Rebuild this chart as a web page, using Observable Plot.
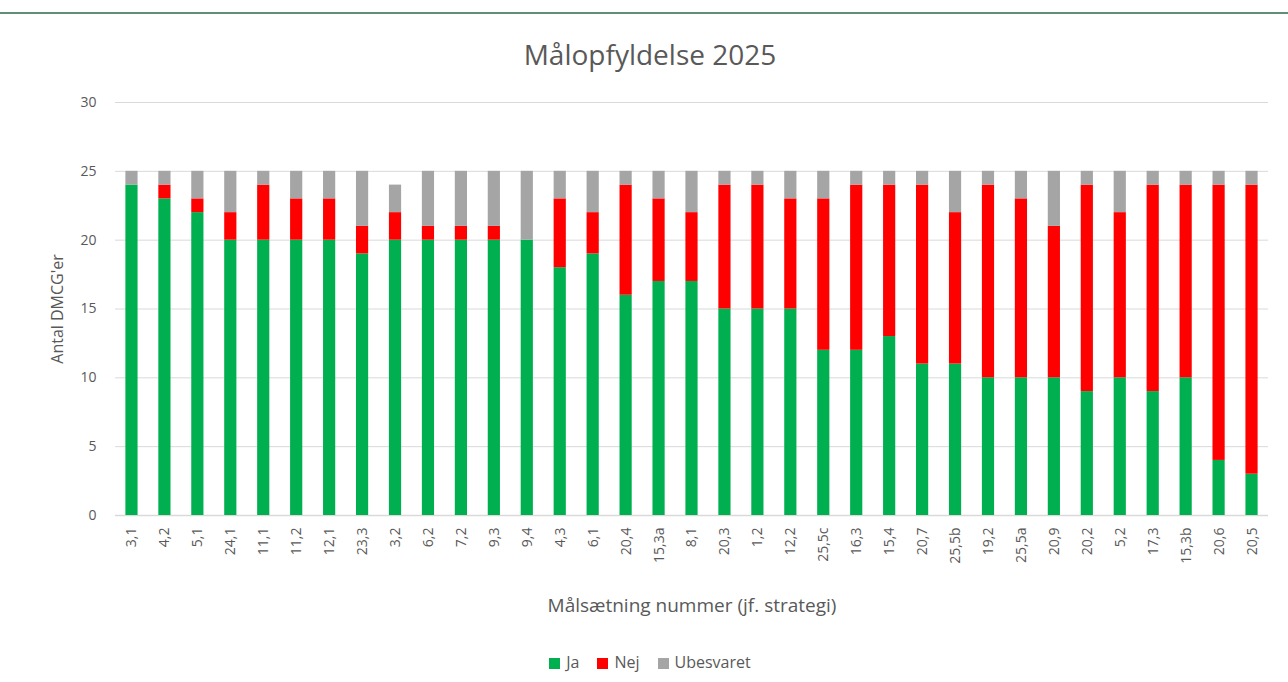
<!DOCTYPE html>
<html>
<head>
<meta charset="utf-8">
<script src="https://cdn.jsdelivr.net/npm/d3@7"></script>
<script src="https://cdn.jsdelivr.net/npm/@observablehq/plot@0.6"></script>
<style>
  html, body { margin: 0; padding: 0; background: #fff; }
  body { width: 1288px; height: 682px; position: relative; overflow: hidden; font-family: "Open Sans", "Liberation Sans", sans-serif; color: #595959; }
  #topline { position: absolute; left: 0; top: 12px; width: 1288px; height: 2px; background: #5f8f74; }
  #title { position: absolute; left: 0; top: 34px; width: 1300px; text-align: center; font-size: 28px; line-height: 40px; color: #595959; }
  #chart { position: absolute; left: 0; top: 80px; }
  #legend { position: absolute; left: 0; top: 651px; width: 1300px; text-align: center; font-size: 16px; line-height: 22px; color: #595959; }
  .item { display: inline-block; margin: 0 9px; }
  .sw { display: inline-block; width: 11px; height: 11px; margin-right: 6px; vertical-align: -1px; }
</style>
</head>
<body>
<div id="topline"></div>
<div id="title">Målopfyldelse 2025</div>
<div id="chart"></div>
<div id="legend"></div>
<script>
const categories = ["3,1","4,2","5,1","24,1","11,1","11,2","12,1","23,3","3,2","6,2","7,2","9,3","9,4","4,3","6,1","20,4","15,3a","8,1","20,3","1,2","12,2","25,5c","16,3","15,4","20,7","25,5b","19,2","25,5a","20,9","20,2","5,2","17,3","15,3b","20,6","20,5"];
const ja        = [24,23,22,20,20,20,20,19,20,20,20,20,20,18,19,16,17,17,15,15,15,12,12,13,11,11,10,10,10, 9,10, 9,10, 4, 3];
const nej       = [ 0, 1, 1, 2, 4, 3, 3, 2, 2, 1, 1, 1, 0, 5, 3, 8, 6, 5, 9, 9, 8,11,12,11,13,11,14,13,11,15,12,15,14,20,21];
const ubesvaret = [ 1, 1, 2, 3, 1, 2, 2, 4, 2, 4, 4, 4, 5, 2, 3, 1, 2, 3, 1, 1, 2, 2, 1, 1, 1, 3, 1, 2, 4, 1, 3, 1, 1, 1, 1];
const seriesNames = ["Ja", "Nej", "Ubesvaret"];
const seriesColors = ["#00b050", "#ff0000", "#a5a5a5"];
const yTicks = [0, 5, 10, 15, 20, 25, 30];

const values = [ja, nej, ubesvaret];
const data = categories.flatMap((c, i) => seriesNames.map((s, k) => ({category: c, series: s, value: values[k][i]})));

const chart = Plot.plot({
  width: 1288,
  height: 545,
  marginLeft: 115,
  marginRight: 20,
  marginTop: 22,
  marginBottom: 110,
  style: {fontFamily: "'Open Sans', 'Liberation Sans', sans-serif", fontSize: "14px", color: "#595959", background: "transparent"},
  x: {domain: categories, paddingInner: 0.63, paddingOuter: 0.315},
  y: {domain: [0, 30]},
  color: {domain: seriesNames, range: seriesColors},
  marks: [
    Plot.gridY(yTicks, {stroke: "#d9d9d9", strokeOpacity: 1}),
    Plot.ruleY([0], {stroke: "#d9d9d9", strokeWidth: 1.5}),
    Plot.barY(data, {x: "category", y: "value", fill: "series", order: seriesNames}),
    Plot.axisY(yTicks, {tickSize: 0, tickPadding: 19, fontSize: 14, label: null}),
    Plot.axisY({ticks: [], label: "Antal DMCG'er", labelAnchor: "center", labelOffset: 64, labelArrow: false, fontSize: 16}),
    Plot.axisX({tickSize: 0, tickPadding: 12, tickRotate: -90, fontSize: 14, label: null}),
    Plot.axisX({ticks: [], label: "Målsætning nummer (jf. strategi)", labelAnchor: "center", labelOffset: 96, labelArrow: false, fontSize: 19})
  ]
});
document.getElementById("chart").appendChild(chart);

const legend = document.getElementById("legend");
seriesNames.forEach((s, k) => {
  const item = document.createElement("span");
  item.className = "item";
  const sw = document.createElement("span");
  sw.className = "sw";
  sw.style.background = seriesColors[k];
  item.appendChild(sw);
  item.appendChild(document.createTextNode(s));
  legend.appendChild(item);
});
</script>
</body>
</html>
